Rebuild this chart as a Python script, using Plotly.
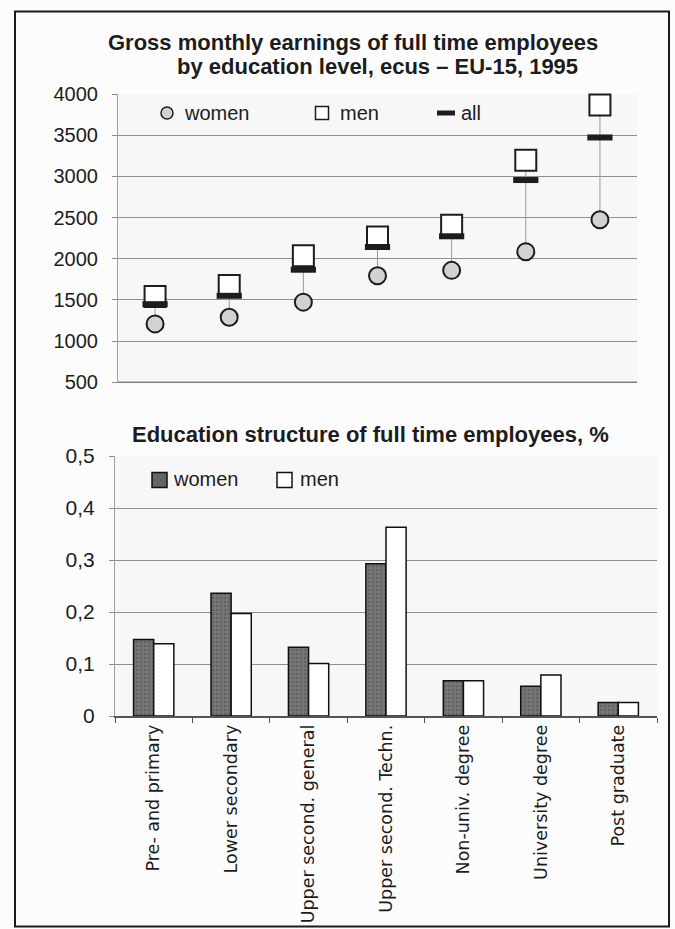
import plotly.graph_objects as go

W, H = 675, 929

# Education levels (shared by both panels)
levels = [
    "Pre- and primary",
    "Lower secondary",
    "Upper second. general",
    "Upper second. Techn.",
    "Non-univ. degree",
    "University degree",
    "Post graduate",
]

# Gross monthly earnings, ecus
earn_women = [1208, 1289, 1472, 1793, 1858, 2085, 2472]
earn_men = [1540, 1674, 2036, 2264, 2405, 3195, 3865]
earn_all = [1447, 1549, 1866, 2142, 2272, 2955, 3472]

# Education structure (share of full time employees)
share_women = [0.147, 0.236, 0.132, 0.293, 0.068, 0.057, 0.026]
share_men = [0.139, 0.197, 0.101, 0.363, 0.068, 0.079, 0.026]

# Axis ticks
earn_ticks = [500, 1000, 1500, 2000, 2500, 3000, 3500, 4000]
share_ticks = [0, 0.1, 0.2, 0.3, 0.4, 0.5]
share_tick_labels = ["0", "0,1", "0,2", "0,3", "0,4", "0,5"]

FONT = "Arial, Liberation Sans, sans-serif"
INK = "#1c1c1c"
GRID = "#8f8f8f"
WOMEN_BAR = "#767676"


def px_x(v):
    return v / W


def px_y(v):
    return 1 - v / H


fig = go.Figure()

# High-low connectors between women and men earnings
hx, hy = [], []
for c, w, m in zip(levels, earn_women, earn_men):
    hx += [c, c, None]
    hy += [w, m, None]
fig.add_trace(go.Scatter(
    x=hx, y=hy, mode="lines", line=dict(color="#9a9a9a", width=1),
    xaxis="x", yaxis="y", hoverinfo="skip", showlegend=False,
))

fig.add_trace(go.Scatter(
    x=levels, y=earn_women, mode="markers", name="women",
    marker=dict(symbol="circle", size=17, color="#d2d2d2",
                line=dict(color=INK, width=2)),
    xaxis="x", yaxis="y", cliponaxis=False, showlegend=False,
))
fig.add_trace(go.Scatter(
    x=levels, y=earn_men, mode="markers", name="men",
    marker=dict(symbol="square", size=21, color="#ffffff",
                line=dict(color=INK, width=2)),
    xaxis="x", yaxis="y", cliponaxis=False, showlegend=False,
))
fig.add_trace(go.Scatter(
    x=levels, y=earn_all, mode="markers", name="all",
    marker=dict(symbol="line-ew", size=18, color=INK,
                line=dict(color=INK, width=6)),
    xaxis="x", yaxis="y", cliponaxis=False, showlegend=False,
))

# Education structure bars
fig.add_trace(go.Bar(
    x=levels, y=share_women, name="women", xaxis="x2", yaxis="y2",
    marker=dict(color=WOMEN_BAR, line=dict(color="#111111", width=1.5),
                pattern=dict(shape=".", fgcolor="#4c4c4c", size=4, solidity=0.35)),
    showlegend=False,
))
fig.add_trace(go.Bar(
    x=levels, y=share_men, name="men", xaxis="x2", yaxis="y2",
    marker=dict(color="#ffffff", line=dict(color="#111111", width=1.5)),
    showlegend=False,
))

shapes = [
    # outer frame
    dict(type="rect", xref="paper", yref="paper",
         x0=px_x(15), x1=px_x(669), y0=px_y(926.5), y1=px_y(11.5),
         line=dict(color="#1a1a1a", width=2), layer="above"),
    # baseline of the earnings panel (lowest gridline)
    dict(type="line", xref="x domain", yref="y", x0=0, x1=1,
         y0=earn_ticks[0], y1=earn_ticks[0],
         line=dict(color="#808080", width=1.5), layer="above"),
    # top legend symbols
    dict(type="circle", xref="paper", yref="paper",
         x0=px_x(161), x1=px_x(173), y0=px_y(119), y1=px_y(107),
         fillcolor="#d2d2d2", line=dict(color=INK, width=1.5)),
    dict(type="rect", xref="paper", yref="paper",
         x0=px_x(315.5), x1=px_x(328.5), y0=px_y(119.5), y1=px_y(106.5),
         fillcolor="#ffffff", line=dict(color=INK, width=1.5)),
    dict(type="rect", xref="paper", yref="paper",
         x0=px_x(437), x1=px_x(455), y0=px_y(115.5), y1=px_y(110.5),
         fillcolor=INK, line=dict(width=0)),
    # bottom legend symbols
    dict(type="rect", xref="paper", yref="paper",
         x0=px_x(152), x1=px_x(167), y0=px_y(487.5), y1=px_y(472.5),
         fillcolor="#656565", line=dict(color="#111111", width=1.5)),
    dict(type="rect", xref="paper", yref="paper",
         x0=px_x(277), x1=px_x(292), y0=px_y(487.5), y1=px_y(472.5),
         fillcolor="#ffffff", line=dict(color="#111111", width=1.5)),
]


def label(text, x, y, size=20, anchor="left", bold=False):
    return dict(
        text=f"<b>{text}</b>" if bold else text,
        xref="paper", yref="paper", x=px_x(x), y=px_y(y),
        xanchor=anchor, yanchor="middle", showarrow=False,
        font=dict(family=FONT, size=size, color=INK),
    )


annotations = [
    label("Gross monthly earnings of full time employees", 353, 42, 22, "center", True),
    label("by education level, ecus \u2013 EU-15, 1995", 377.5, 67, 22, "center", True),
    label("Education structure of full time employees, %", 370, 435, 22, "center", True),
    label("women", 182, 113),
    label("men", 338, 113),
    label("all", 459, 113),
    label("women", 171, 479),
    label("men", 298, 479),
]

fig.update_layout(
    width=W, height=H, autosize=False,
    margin=dict(l=0, r=0, t=0, b=0),
    paper_bgcolor="#fcfcfc", plot_bgcolor="#f7f7f7",
    font=dict(family=FONT, color=INK),
    barmode="group", bargap=0.48, bargroupgap=0,
    shapes=shapes, annotations=annotations,
    xaxis=dict(
        domain=[px_x(118), px_x(637)], anchor="y", type="category",
        range=[-0.5, 6.5], showticklabels=False, showgrid=False,
        showline=False, ticks="", zeroline=False,
    ),
    yaxis=dict(
        domain=[px_y(383), px_y(94)], anchor="x", range=[490, 4000],
        tickvals=earn_ticks, showgrid=True, gridcolor=GRID, gridwidth=1,
        showline=True, linecolor="#a0a0a0", linewidth=1,
        ticks="outside", ticklen=5, tickcolor="#8a8a8a",
        tickfont=dict(family=FONT, size=20, color=INK),
        ticklabelstandoff=10, zeroline=False, automargin=False,
    ),
    xaxis2=dict(
        domain=[px_x(115), px_x(657)], anchor="y2", type="category",
        range=[-0.5, 6.5], tickangle=-90,
        tickfont=dict(family="DejaVu Sans, sans-serif", size=17.5, color=INK),
        ticks="outside", tickson="boundaries", ticklen=5, tickcolor="#555555",
        showline=True, linecolor="#555555", linewidth=1.5,
        showgrid=False, zeroline=False, automargin=False,
    ),
    yaxis2=dict(
        domain=[px_y(716), px_y(456)], anchor="x2", range=[0, 0.5],
        tickvals=share_ticks, ticktext=share_tick_labels,
        showgrid=True, gridcolor=GRID, gridwidth=1,
        showline=True, linecolor="#a0a0a0", linewidth=1,
        ticks="outside", ticklen=5, tickcolor="#8a8a8a",
        tickfont=dict(family=FONT, size=21, color=INK),
        ticklabelstandoff=10, zeroline=False, automargin=False,
    ),
)

fig.write_html("out.html")
